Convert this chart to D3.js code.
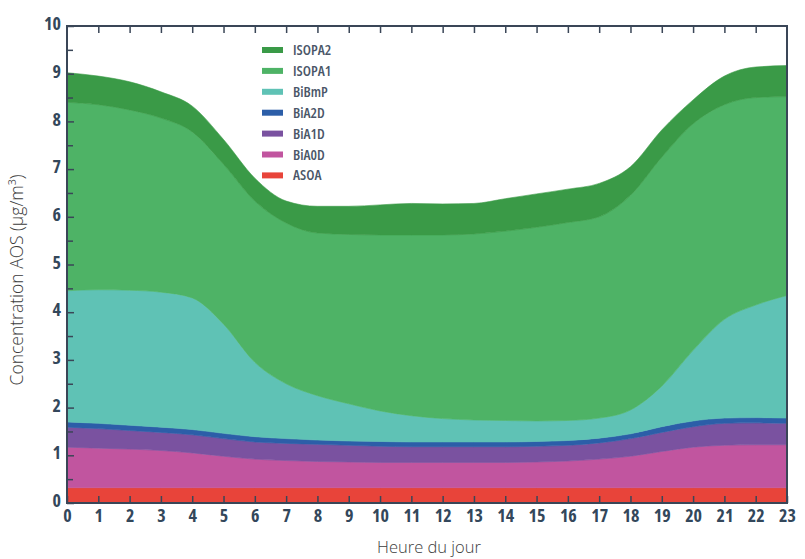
<!DOCTYPE html>
<html><head><meta charset="utf-8">
<script src="https://cdn.jsdelivr.net/npm/d3@7"></script>
<style>body{margin:0;background:#fff}svg{display:block}</style>
</head><body><svg id="c" width="805" height="559"></svg>
<script>
const hours = d3.range(0, 24);
const seriesNames = ["ASOA","BiA0D","BiA1D","BiA2D","BiBmP","ISOPA1","ISOPA2"];
const colors = ["#e8443a","#c1559f","#7a52a0","#2c5ea8","#5fc2b5","#4eb366","#3a9a47"];
const ASOA   = [0.32,0.32,0.32,0.32,0.32,0.32,0.32,0.32,0.32,0.32,0.32,0.32,0.32,0.32,0.32,0.32,0.32,0.32,0.32,0.32,0.32,0.32,0.32,0.32];
const BiA0D  = [0.85,0.83,0.81,0.78,0.73,0.66,0.60,0.57,0.55,0.54,0.53,0.53,0.53,0.53,0.53,0.54,0.56,0.60,0.66,0.76,0.85,0.89,0.90,0.90];
const BiA1D  = [0.42,0.41,0.39,0.38,0.38,0.37,0.36,0.36,0.36,0.35,0.34,0.33,0.33,0.33,0.33,0.33,0.33,0.34,0.37,0.40,0.43,0.46,0.46,0.45];
const BiA2D  = [0.11,0.11,0.11,0.11,0.11,0.11,0.11,0.10,0.09,0.09,0.10,0.10,0.10,0.10,0.10,0.10,0.10,0.10,0.10,0.12,0.12,0.11,0.11,0.11];
const BiBmP  = [2.75,2.80,2.83,2.83,2.76,2.29,1.56,1.15,0.93,0.78,0.64,0.55,0.49,0.46,0.45,0.43,0.42,0.42,0.50,0.85,1.48,2.07,2.36,2.57];
const ISOPA1 = [3.95,3.88,3.78,3.65,3.48,3.35,3.38,3.37,3.41,3.55,3.69,3.79,3.85,3.90,3.97,4.06,4.15,4.22,4.50,4.80,4.75,4.50,4.35,4.17];
const ISOPA2 = [0.62,0.60,0.59,0.55,0.54,0.52,0.48,0.46,0.56,0.59,0.63,0.66,0.65,0.64,0.68,0.70,0.70,0.70,0.60,0.57,0.50,0.60,0.64,0.65];
const yTicks = [0,1,2,3,4,5,6,7,8,9,10];
const legendOrder = ["ISOPA2","ISOPA1","BiBmP","BiA2D","BiA1D","BiA0D","ASOA"];

const valuesByName = {ASOA, BiA0D, BiA1D, BiA2D, BiBmP, ISOPA1, ISOPA2};
const table = hours.map((h,i) => {
  const row = {hour:h};
  seriesNames.forEach(n => row[n] = valuesByName[n][i]);
  return row;
});

const svg = d3.select("#c");
const L = 67, R = 787, T = 26, B = 503;
const x = d3.scaleLinear().domain([0,23]).range([L,R]);
const y = d3.scaleLinear().domain([0,10]).range([B,T]);
const color = d3.scaleOrdinal().domain(seriesNames).range(colors);

const layers = d3.stack().keys(seriesNames)(table);
const area = d3.area()
  .x(d => x(d.data.hour))
  .y0(d => y(d[0]))
  .y1(d => y(d[1]))
  .curve(d3.curveMonotoneX);

svg.append("g").selectAll("path").data(layers).join("path")
  .attr("d", area)
  .attr("fill", d => color(d.key))
  .attr("stroke", d => color(d.key))
  .attr("stroke-width", 0.6);

const axisColor = "#3a4657";
const tickFont = "'Open Sans',sans-serif";

const xb = svg.append("g").attr("transform", `translate(0,${B})`)
  .call(d3.axisBottom(x).tickValues(hours).tickSizeInner(-7).tickSizeOuter(0).tickPadding(9).tickFormat(d3.format("d")));
const xt = svg.append("g").attr("transform", `translate(0,${T})`)
  .call(d3.axisTop(x).tickValues(hours.slice(1,23)).tickSizeInner(-7).tickSizeOuter(0).tickFormat(""));
const yl2 = svg.append("g").attr("transform", `translate(${L},0)`)
  .call(d3.axisLeft(y).tickValues(d3.range(0.5,10,1)).tickSizeInner(-6).tickSizeOuter(0).tickFormat(""));
const yl = svg.append("g").attr("transform", `translate(${L},0)`)
  .call(d3.axisLeft(y).tickValues(yTicks).tickSizeInner(-7).tickSizeOuter(0).tickPadding(6).tickFormat(d3.format("d")));

[xb,xt,yl,yl2].forEach(g => {
  g.select(".domain").remove();
  g.selectAll(".tick line").attr("stroke", axisColor).attr("stroke-width", 1.5);
  g.selectAll("text").attr("fill", "#33475b").style("font-family", tickFont)
    .style("font-weight", "bold").style("font-stretch", "condensed").style("font-size", "18px");
});
xb.selectAll("text").attr("dy", "0.55em");
yl.selectAll("text").attr("dy", "0.2em");

svg.append("rect").attr("x", L).attr("y", T).attr("width", R-L).attr("height", B-T)
  .attr("fill", "none").attr("stroke", axisColor).attr("stroke-width", 2);

const titleFont = "'Open Sans','Noto Sans',sans-serif";
svg.append("text").attr("x", (L+R)/2 + 2).attr("y", 553).attr("text-anchor","middle")
  .style("font-family", titleFont).style("font-weight","300").style("font-size","16.5px")
  .attr("fill","#3c3c3c")
  .text("Heure du jour");
svg.append("text").attr("transform", "translate(23,280) rotate(-90)").attr("text-anchor","middle")
  .style("font-family", titleFont).style("font-weight","300").style("font-size","17.5px")
  .attr("fill","#3c3c3c")
  .text("Concentration AOS (µg/m³)");

const lg = svg.append("g");
legendOrder.forEach((n,i) => {
  const yy = 50 + i*20.9;
  lg.append("line").attr("x1", 262).attr("x2", 283).attr("y1", yy).attr("y2", yy)
    .attr("stroke", color(n)).attr("stroke-width", 6);
  lg.append("text").attr("x", 293).attr("y", yy).attr("dy","0.35em")
    .style("font-family", tickFont).style("font-weight","600").style("font-stretch","condensed")
    .style("font-size","14.5px").attr("fill","#4a5668").text(n);
});
</script></body></html>
